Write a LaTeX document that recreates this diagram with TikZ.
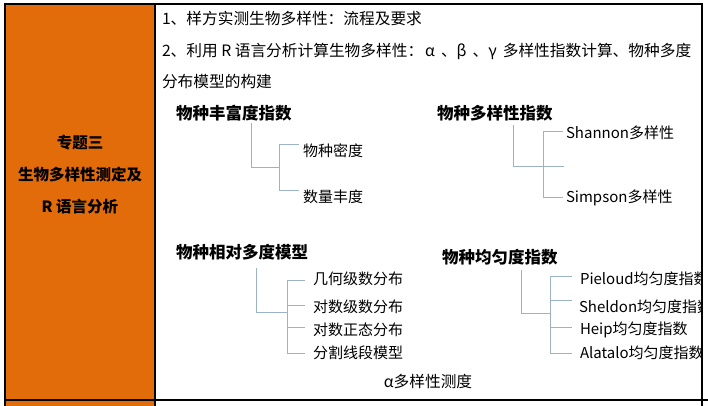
\documentclass[tikz,border=0pt]{standalone}
\usepackage{fontspec}
\setmainfont{Noto Sans CJK SC}
\usetikzlibrary{positioning}
\definecolor{cellorange}{HTML}{E36C0A}
\definecolor{treeblue}{HTML}{9BB3C6}

\begin{document}
\begin{tikzpicture}[x=1pt,y=-1pt,
  every node/.style={inner sep=0pt,outer sep=0pt},
  rowtext/.style={anchor=west,font=\fontsize{15.7}{18}\selectfont},
  head/.style={anchor=west,font=\bfseries\fontsize{16.5}{20}\selectfont},
  leaf/.style={anchor=west,font=\fontsize{15}{18}\selectfont},
  branch/.style={draw=treeblue,line width=1pt},
  rule/.style={draw=black,line width=1.3pt}
]
  \useasboundingbox (0,0) rectangle (708,406);
  \fill[cellorange] (5,4) rectangle (155,406);

  \node[align=center,font=\bfseries\fontsize{15.5}{32}\selectfont] (topic) at (80,175)
    {专题三\\生物多样性测定及\\R 语言分析};

  \node[rowtext] (item1) at (162,18) {1、样方实测生物多样性：流程及要求};
  \node[rowtext] (item2) at (162,51) {2、利用 R 语言分析计算生物多样性：\hspace{2pt}α\hspace{6pt}、β\hspace{6pt}、γ\hspace{6pt}多样性指数计算、物种多度};
  \node[rowtext] (item3) at (162,82) {分布模型的构建};

  % richness
  \node[head] (rich) at (176,113) {物种丰富度指数};
  \node[leaf] (dens) at (303,151) {物种密度};
  \node[leaf] (abun) at (303,197) {数量丰度};
  \coordinate (rich-top) at (251,123);
  \coordinate (rich-j) at (279,167);
  \draw[branch] (rich-top) |- (rich-j);
  \draw[branch] (dens.west) ++(-4,-6) -| (rich-j);
  \draw[branch] (abun.west) ++(-4,-7) -| (rich-j);

  % diversity
  \node[head] (div) at (437,113) {物种多样性指数};
  \node[leaf] (shan) at (566,133) {Shannon多样性};
  \node[leaf] (simp) at (566,198) {Simpson多样性};
  \coordinate (div-top) at (513,125);
  \coordinate (div-j) at (543,166);
  \coordinate (div-end) at (564,166);
  \draw[branch] (div-top) |- (div-end);
  \draw[branch] (shan.west) ++(-3,-1) -| (div-j);
  \draw[branch] (simp.west) ++(-3,-1) -| (div-j);

  % relative abundance
  \node[head] (rel) at (176,252) {物种相对多度模型};
  \node[leaf] (geo) at (313,279) {几何级数分布};
  \node[leaf] (logser) at (313,307) {对数级数分布};
  \node[leaf] (lognorm) at (313,330) {对数正态分布};
  \node[leaf] (broken) at (313,353) {分割线段模型};
  \coordinate (rel-top) at (256,268);
  \coordinate (rel-j) at (287,312);
  \draw[branch] (rel-top) |- (rel-j);
  \draw[branch] (geo.west) ++(-8,1) -| (rel-j);
  \draw[branch] (broken.west) ++(-8,0) -| (rel-j);
  \draw[branch] (logser.west) ++(-8,-2) -- ++(-18,0);
  \draw[branch] (lognorm.west) ++(-8,-3) -- ++(-18,0);

  % evenness
  \begin{scope}
    \clip (155,4) rectangle (701,400);
    \node[head] (even) at (442,257) {物种均匀度指数};
    \node[leaf] (piel) at (580,279) {Pieloud均匀度指数};
    \node[leaf] (shel) at (579,307) {Sheldon均匀度指数};
    \node[leaf] (heip) at (580,330) {Heip均匀度指数};
    \node[leaf] (alat) at (580,353) {Alatalo均匀度指数};
  \end{scope}
  \coordinate (even-top) at (521,270);
  \coordinate (even-j) at (550,313);
  \draw[branch] (even-top) |- (even-j);
  \draw[branch] (piel.west) ++(-8,-3) -| (even-j);
  \draw[branch] (alat.west) ++(-8,0) -| (even-j);
  \draw[branch] (shel.west) ++(-7,-7) -- ++(-22,0);
  \draw[branch] (heip.west) ++(-8,-3) -- ++(-22,0);

  \node[rowtext,anchor=center] (alpha) at (428,382) {α多样性测度};

  % table rules
  \draw[rule] (5,406) -- (5,4) -- (702,4) -- (702,406);
  \draw[rule] (155,4) -- (155,406);
  \draw[rule] (5,400) -- (708,400);
\end{tikzpicture}
\end{document}
